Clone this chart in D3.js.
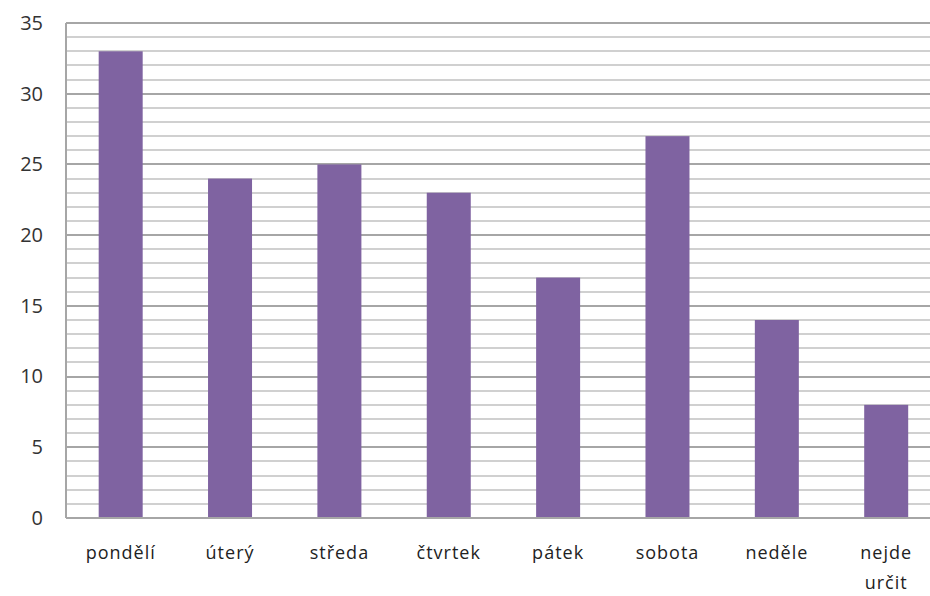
<!DOCTYPE html>
<html>
<head>
<meta charset="utf-8">
<script src="https://cdn.jsdelivr.net/npm/d3@7"></script>
<style>
  body { margin: 0; background: #fff; }
  svg { display: block; }
</style>
</head>
<body>
<svg id="chart"></svg>
<script>
const categories = ['pondělí', 'úterý', 'středa', 'čtvrtek', 'pátek', 'sobota', 'neděle', 'nejde určit']
const values = [33, 24, 25, 23, 17, 27, 14, 8]
const yTicks = [0, 5, 10, 15, 20, 25, 30, 35]

const WIDTH = 930
const HEIGHT = 596
const MARGIN = { top: 23, left: 66, bottom: 78 }
const BAND = 109.36

const innerHt = HEIGHT - MARGIN.top - MARGIN.bottom
const innerWd = BAND * categories.length

const x = d3.scaleBand()
  .domain(categories)
  .range([0, innerWd])
const y = d3.scaleLinear()
  .domain([0, 35])
  .range([innerHt, 0])
const barWd = 44

const svg = d3.select('#chart')
  .attr('width', WIDTH)
  .attr('height', HEIGHT)

const g = svg.append('g')
  .attr('transform', 'translate(' + MARGIN.left + ',' + MARGIN.top + ')')

// minor gridlines, every unit
g.append('g')
  .selectAll('line')
  .data(d3.range(1, 36).filter(v => v % 5 !== 0))
  .enter()
  .append('line')
  .attr('x1', 0)
  .attr('x2', innerWd)
  .attr('y1', d => Math.round(y(d)))
  .attr('y2', d => Math.round(y(d)))
  .attr('stroke', '#d0d0d0')
  .attr('stroke-width', 2)

// major gridlines
g.append('g')
  .selectAll('line')
  .data(yTicks.filter(v => v > 0))
  .enter()
  .append('line')
  .attr('x1', 0)
  .attr('x2', innerWd)
  .attr('y1', d => Math.round(y(d)))
  .attr('y2', d => Math.round(y(d)))
  .attr('stroke', '#a6a6a6')
  .attr('stroke-width', 2)

// bars
g.append('g')
  .selectAll('rect')
  .data(values)
  .enter()
  .append('rect')
  .attr('x', (d, i) => x(categories[i]) + x.bandwidth() / 2 - barWd / 2)
  .attr('y', d => y(d))
  .attr('width', barWd)
  .attr('height', d => innerHt - y(d))
  .attr('fill', '#7f63a1')

// axes lines
g.append('line')
  .attr('x1', 0).attr('x2', innerWd)
  .attr('y1', innerHt).attr('y2', innerHt)
  .attr('stroke', '#a6a6a6')
  .attr('stroke-width', 2)
g.append('line')
  .attr('x1', 0).attr('x2', 0)
  .attr('y1', 0).attr('y2', innerHt)
  .attr('stroke', '#a6a6a6')
  .attr('stroke-width', 2)

// y labels
const yAxis = g.append('g')
  .call(d3.axisLeft(y).tickValues(yTicks).tickSize(0).tickPadding(23))
yAxis.select('.domain').remove()
yAxis.selectAll('text')
  .attr('fill', '#333')
  .style('font-family', '"Open Sans", sans-serif')
  .style('font-size', '20px')

// x labels
const xAxis = g.append('g')
  .attr('transform', 'translate(0,' + innerHt + ')')
  .call(d3.axisBottom(x).tickSize(0).tickFormat(''))
xAxis.select('.domain').remove()
xAxis.selectAll('.tick')
  .append('text')
  .attr('fill', '#222')
  .attr('text-anchor', 'middle')
  .style('font-family', '"Open Sans", sans-serif')
  .style('font-size', '18px')
  .style('letter-spacing', '1px')
  .each(function (d) {
    const words = d.split(' ')
    const t = d3.select(this)
    const lines = words.length > 1 ? words : [d]
    lines.forEach((w, i) => {
      t.append('tspan')
        .attr('x', 0)
        .attr('y', 41 + i * 30)
        .text(w)
    })
  })
</script>
</body>
</html>
